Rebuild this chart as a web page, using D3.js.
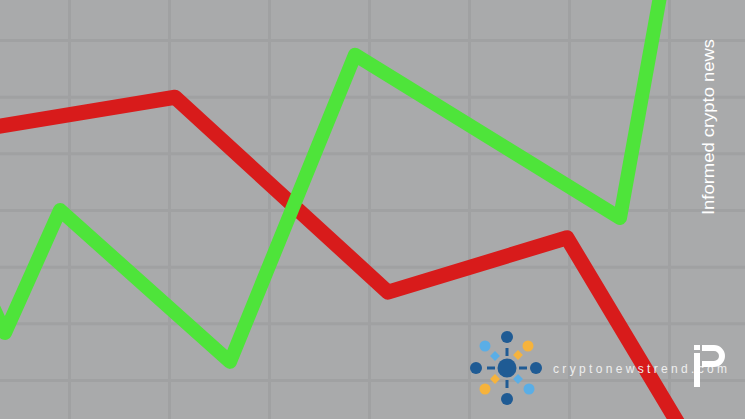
<!DOCTYPE html>
<html>
<head>
<meta charset="utf-8">
<script src="https://cdn.jsdelivr.net/npm/d3@7"></script>
<style>
html,body{margin:0;padding:0;background:#a9aaab;overflow:hidden;}
svg{display:block;}
</style>
</head>
<body>
<svg id="chart" width="745" height="419"></svg>
<script>
// Grid ticks (unitless chart grid)
const xTicks = [1, 2, 3, 4, 5, 6, 7];
const yTicks = [1, 2, 3, 4, 5, 6, 7];

// Series: x positions (grid units) and values
const greenX = [0.16, 0.36, 0.91, 2.61, 3.86, 6.51, 6.94];
const greenY = [2.59, 1.83, 4.00, 1.32, 6.74, 3.86, 8.06];
const redX   = [0.21, 2.06, 4.19, 5.98, 7.13];
const redY   = [5.45, 5.99, 2.55, 3.51, 0.12];

const brandText = "cryptonewstrend.com";
const tagline = "Informed crypto news";

const W = 745, H = 419;
const svg = d3.select("#chart");

const x = d3.scaleLinear().domain([0.31, 7.76]).range([0, W]);
const y = d3.scaleLinear().domain([0.312, 7.706]).range([H, 0]);

svg.append("rect").attr("width", W).attr("height", H).attr("fill", "#a9aaab");

// grid via axes
const gx = svg.append("g").attr("class", "gx")
  .call(d3.axisTop(x).tickValues(xTicks).tickSize(-H).tickFormat(""));
const gy = svg.append("g").attr("class", "gy")
  .call(d3.axisLeft(y).tickValues(yTicks).tickSize(-W).tickFormat(""));
svg.selectAll(".gx .domain, .gy .domain").remove();
svg.selectAll(".gx line, .gy line").attr("stroke", "#a0a1a2").attr("stroke-width", 3);

const line = d3.line().x(d => x(d[0])).y(d => y(d[1]));

svg.append("path")
  .datum(redX.map((v, i) => [v, redY[i]]))
  .attr("d", line).attr("fill", "none")
  .attr("stroke", "#d81b1b").attr("stroke-width", 15)
  .attr("stroke-linejoin", "round");

svg.append("path")
  .datum(greenX.map((v, i) => [v, greenY[i]]))
  .attr("d", line).attr("fill", "none")
  .attr("stroke", "#4ee43a").attr("stroke-width", 14)
  .attr("stroke-linejoin", "round");

// vertical tagline
svg.append("text")
  .attr("transform", "translate(714,215) rotate(-90)")
  .attr("font-family", "Liberation Sans, Arial, sans-serif")
  .attr("font-size", 16.5)
  .attr("fill", "#ffffff")
  .attr("textLength", 176)
  .attr("lengthAdjust", "spacingAndGlyphs")
  .text(tagline);

// logo
const logo = svg.append("g").attr("transform", "translate(507,368)");
const dark = "#1f5b94", light = "#5aaee6", orange = "#f6b33c";
[[0,-1],[0,1],[-1,0],[1,0]].forEach(([dx,dy]) => {
  logo.append("line")
    .attr("x1", dx*12).attr("y1", dy*12).attr("x2", dx*20).attr("y2", dy*20)
    .attr("stroke", dark).attr("stroke-width", 3);
});
logo.append("circle").attr("r", 9.5).attr("fill", dark);
[[0,-31],[0,31],[-31,0],[29,0]].forEach(([cx,cy]) =>
  logo.append("circle").attr("cx", cx).attr("cy", cy).attr("r", 6).attr("fill", dark));
[[-22,-22,light],[22,21,light],[21,-22,orange],[-22,21,orange]].forEach(([cx,cy,c]) =>
  logo.append("circle").attr("cx", cx).attr("cy", cy).attr("r", 5.5).attr("fill", c));
[[-12,-12,light],[11,11,light],[11,-13,orange],[-12,11,orange]].forEach(([cx,cy,c]) =>
  logo.append("rect").attr("x", -3.5).attr("y", -3.5).attr("width", 7).attr("height", 7)
    .attr("fill", c).attr("transform", `translate(${cx},${cy}) rotate(45)`));

svg.append("text")
  .attr("x", 553).attr("y", 373)
  .attr("font-family", "Liberation Sans, Arial, sans-serif")
  .attr("font-size", 12)
  .attr("fill", "#eeeeee")
  .attr("textLength", 174)
  .attr("lengthAdjust", "spacing")
  .text(brandText);

// iP mark
const ip = svg.append("g").attr("fill", "#ffffff");
ip.append("rect").attr("x", 694).attr("y", 353).attr("width", 6).attr("height", 34);
ip.append("rect").attr("x", 694).attr("y", 345).attr("width", 6).attr("height", 5);
ip.append("path")
  .attr("d", "M702,345 h12 a11,11 0 0 1 0,22 h-12 v-6 h12 a5,5 0 0 0 0,-10 h-12 z");
</script>
</body>
</html>
